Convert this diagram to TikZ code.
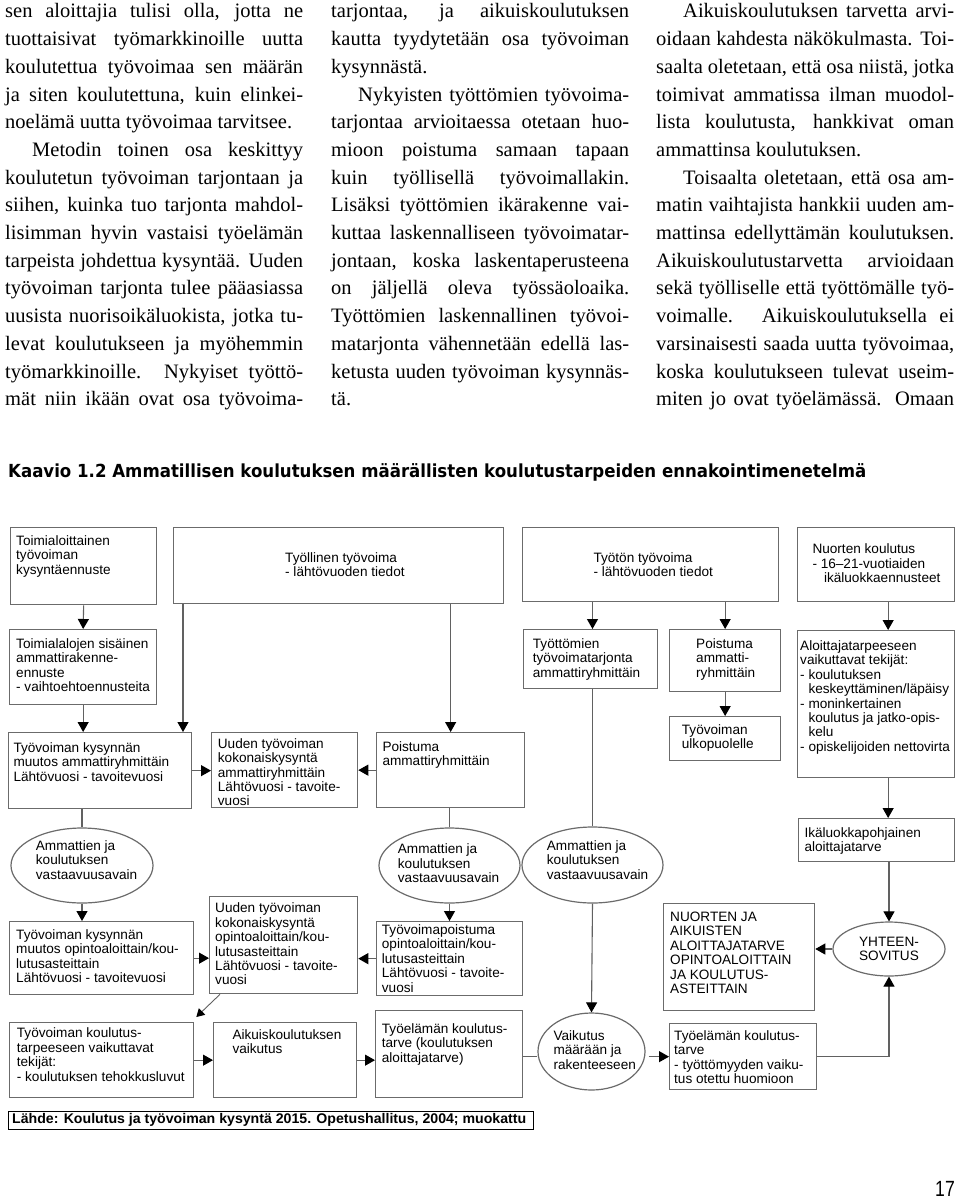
\documentclass[tikz,border=0pt]{standalone}
\usepackage{fontspec}
\usepackage{graphicx}
\setmainfont{Liberation Serif}
\newfontfamily\arialf{Liberation Sans}
\newfontfamily\titlef{DejaVu Sans}
\usetikzlibrary{arrows.meta,shapes.geometric,calc}
\definecolor{boxgray}{gray}{0.42}
\definecolor{linegray}{gray}{0.38}
\newcommand\jl[1]{\makebox[298pt][s]{#1}}
\newcommand\jli[1]{\hspace*{27pt}\makebox[271pt][s]{#1}}
\begin{document}
\begin{tikzpicture}[x=1pt,y=-1pt,
  box/.style={draw=boxgray,line width=1.3pt,rectangle,inner sep=0,anchor=north west},
  ell/.style={draw=boxgray,line width=1.2pt,ellipse,inner sep=0},
  txt/.style={font=\arialf\fontsize{13.6}{14.4}\selectfont,align=left,inner sep=0,anchor=north west},
  col/.style={font=\fontsize{20.5}{27.7}\selectfont,align=left,inner sep=0,anchor=north west},
  ln/.style={draw=linegray,line width=1.1pt},
  arr/.style={ln,-{Triangle[width=11pt,length=10pt,color=black]}},
  arrthin/.style={draw=linegray,line width=0.9pt,-{Triangle[width=9pt,length=8pt,color=black]}}]
\fill[white] (0,0) rectangle (960,1200);
\useasboundingbox (0,0) rectangle (960,1200);

% ---- running text ----
\node[col] (col1) at (5,3.5) {%
\jl{sen aloittajia tulisi olla, jotta ne}\\
\jl{tuottaisivat työmarkkinoille uutta}\\
\jl{koulutettua työvoimaa sen määrän}\\
\jl{ja siten koulutettuna, kuin elinkei-}\\
noelämä uutta työvoimaa tarvitsee.\\
\jli{Metodin toinen osa keskittyy}\\
\jl{koulutetun työvoiman tarjontaan ja}\\
\jl{siihen, kuinka tuo tarjonta mahdol-}\\
\jl{lisimman hyvin vastaisi työelämän}\\
\jl{tarpeista johdettua kysyntää. Uuden}\\
\jl{työvoiman tarjonta tulee pääasiassa}\\
\jl{uusista nuorisoikäluokista, jotka tu-}\\
\jl{levat koulutukseen ja myöhemmin}\\
\jl{työmarkkinoille. Nykyiset työttö-}\\
\jl{mät niin ikään ovat osa työvoima-}};
\node[col] (col2) at (331,3.5) {%
\jl{tarjontaa, ja aikuiskoulutuksen}\\
\jl{kautta tyydytetään osa työvoiman}\\
kysynnästä.\\
\jli{Nykyisten työttömien työvoima-}\\
\jl{tarjontaa arvioitaessa otetaan huo-}\\
\jl{mioon poistuma samaan tapaan}\\
\jl{kuin työllisellä työvoimallakin.}\\
\jl{Lisäksi työttömien ikärakenne vai-}\\
\jl{kuttaa laskennalliseen työvoimatar-}\\
\jl{jontaan, koska laskentaperusteena}\\
\jl{on jäljellä oleva työssäoloaika.}\\
\jl{Työttömien laskennallinen työvoi-}\\
\jl{matarjonta vähennetään edellä las-}\\
\jl{ketusta uuden työvoiman kysynnäs-}\\
tä.};
\node[col] (col3) at (656,3.5) {%
\jli{Aikuiskoulutuksen tarvetta arvi-}\\
\jl{oidaan kahdesta näkökulmasta. Toi-}\\
\jl{saalta oletetaan, että osa niistä, jotka}\\
\jl{toimivat ammatissa ilman muodol-}\\
\jl{lista koulutusta, hankkivat oman}\\
ammattinsa koulutuksen.\\
\jli{Toisaalta oletetaan, että osa am-}\\
\jl{matin vaihtajista hankkii uuden am-}\\
\jl{mattinsa edellyttämän koulutuksen.}\\
\jl{Aikuiskoulutustarvetta arvioidaan}\\
\jl{sekä työlliselle että työttömälle työ-}\\
\jl{voimalle. Aikuiskoulutuksella ei}\\
\jl{varsinaisesti saada uutta työvoimaa,}\\
\jl{koska koulutukseen tulevat useim-}\\
\jl{miten jo ovat työelämässä. Omaan}};

% ---- title ----
\node[anchor=base west,inner sep=0] (title) at (8,477) {\resizebox{858pt}{\height}{\titlef\bfseries\fontsize{18}{18}\selectfont Kaavio 1.2 Ammatillisen koulutuksen määrällisten koulutustarpeiden ennakointimenetelmä}};

% ---- boxes ----
\node[box,minimum width=146pt,minimum height=77pt] (b1) at (10,527) {};
\node[box,minimum width=330pt,minimum height=76pt] (b2) at (173,527) {};
\node[box,minimum width=256pt,minimum height=74pt] (b3) at (522,527) {};
\node[box,minimum width=157pt,minimum height=74pt] (b4) at (797,527) {};
\node[box,minimum width=147pt,minimum height=75pt] (b5) at (9,629) {};
\node[box,minimum width=134pt,minimum height=59pt] (b6) at (523,629) {};
\node[box,minimum width=111pt,minimum height=62pt] (b7) at (669,629) {};
\node[box,minimum width=111pt,minimum height=44pt] (b8) at (669,716) {};
\node[box,minimum width=157pt,minimum height=147pt] (b9) at (797,630) {};
\node[box,minimum width=183pt,minimum height=76pt] (b10) at (8,732) {};
\node[box,minimum width=146pt,minimum height=75pt] (b11) at (211,732) {};
\node[box,minimum width=148pt,minimum height=75pt] (b12) at (376,732) {};
\node[box,minimum width=156pt,minimum height=43pt] (b13) at (798,818) {};
\node[box,minimum width=184pt,minimum height=73pt] (b14) at (9,921) {};
\node[box,minimum width=148pt,minimum height=97pt] (b15) at (209,896) {};
\node[box,minimum width=146pt,minimum height=74pt] (b16) at (376,921) {};
\node[box,minimum width=151pt,minimum height=107pt] (b17) at (663,903) {};
\node[box,minimum width=184pt,minimum height=75pt] (b18) at (9,1022) {};
\node[box,minimum width=143pt,minimum height=75pt] (b19) at (213,1022) {};
\node[box,minimum width=147pt,minimum height=87pt] (b20) at (375,1010) {};
\node[box,minimum width=147pt,minimum height=66pt] (b21) at (669,1023) {};

% ---- ellipses ----
\node[ell,minimum width=142pt,minimum height=75pt] (e1) at (82,865.5) {};
\node[ell,minimum width=141pt,minimum height=75pt] (e2) at (449.5,865.5) {};
\node[ell,minimum width=141pt,minimum height=76pt] (e3) at (592.5,865) {};
\node[ell,minimum width=112pt,minimum height=54pt,font=\arialf\fontsize{13.6}{14.4}\selectfont,align=center] (e4) at (889,949) {YHTEEN-\\SOVITUS};
\node[ell,minimum width=107pt,minimum height=77pt] (e5) at (591.5,1051.5) {};

% ---- texts ----
\node[txt] (t1) at (16,535.5) {Toimialoittainen\\työvoiman\\kysyntäennuste};
\node[txt] (t2) at (285,552.2) {Työllinen työvoima\\- lähtövuoden tiedot};
\node[txt] (t3) at (593.3,552.2) {Työtön työvoima\\- lähtövuoden tiedot};
\node[txt] (t4) at (812.3,543.8) {Nuorten koulutus\\- 16–21-vuotiaiden\\\hspace*{11.5pt}ikäluokkaennusteet};
\node[txt] (t5) at (16,638.5) {Toimialalojen sisäinen\\ammattirakenne-\\ennuste\\- vaihtoehtoennusteita};
\node[txt] (t6) at (532.7,638.5) {Työttömien\\työvoimatarjonta\\ammattiryhmittäin};
\node[txt] (t7) at (696,638.5) {Poistuma\\ammatti-\\ryhmittäin};
\node[txt] (t8) at (681.7,724.5) {Työvoiman\\ulkopuolelle};
\node[txt] (t9) at (800,640.5) {Aloittajatarpeeseen\\vaikuttavat tekijät:\\- koulutuksen\\\hspace*{8.3pt}keskeyttäminen/läpäisy\\- moninkertainen\\\hspace*{8.3pt}koulutus ja jatko-opis-\\\hspace*{8.3pt}kelu\\- opiskelijoiden nettovirta};
\node[txt] (t10) at (13.3,742.2) {Työvoiman kysynnän\\muutos ammattiryhmittäin\\Lähtövuosi - tavoitevuosi};
\node[txt] (t11) at (217.7,738.2) {Uuden työvoiman\\kokonaiskysyntä\\ammattiryhmittäin\\Lähtövuosi - tavoite-\\vuosi};
\node[txt] (t12) at (382.3,741.5) {Poistuma\\ammattiryhmittäin};
\node[txt] (te1) at (35.7,840.5) {Ammattien ja\\koulutuksen\\vastaavuusavain};
\node[txt] (te2) at (397.7,843.8) {Ammattien ja\\koulutuksen\\vastaavuusavain};
\node[txt] (te3) at (546.7,840.5) {Ammattien ja\\koulutuksen\\vastaavuusavain};
\node[txt] (t13) at (804.3,827.2) {Ikäluokkapohjainen\\aloittajatarve};
\node[txt] (t14) at (16,929.5) {Työvoiman kysynnän\\muutos opintoaloittain/kou-\\lutusasteittain\\Lähtövuosi - tavoitevuosi};
\node[txt] (t15) at (215,902.8) {Uuden työvoiman\\kokonaiskysyntä\\opintoaloittain/kou-\\lutusasteittain\\Lähtövuosi - tavoite-\\vuosi};
\node[txt] (t16) at (381.7,924.5) {Työvoimapoistuma\\opintoaloittain/kou-\\lutusasteittain\\Lähtövuosi - tavoite-\\vuosi};
\node[txt] (t17) at (670,911.7) {NUORTEN JA\\AIKUISTEN\\ALOITTAJATARVE\\OPINTOALOITTAIN\\JA KOULUTUS-\\ASTEITTAIN};
\node[txt] (te5) at (553.3,1030.2) {Vaikutus\\määrään ja\\rakenteeseen};
\node[txt] (t18) at (16.7,1027.8) {Työvoiman koulutus-\\tarpeeseen vaikuttavat\\tekijät:\\- koulutuksen tehokkusluvut};
\node[txt] (t19) at (232.3,1029.5) {Aikuiskoulutuksen\\vaikutus};
\node[txt] (t20) at (381.7,1023.5) {Työelämän koulutus-\\tarve (koulutuksen\\aloittajatarve)};
\node[txt] (t21) at (674,1030.2) {Työelämän koulutus-\\tarve\\- työttömyyden vaiku-\\tus otettu huomioon};

% ---- connectors ----
\draw[arr] (b1.south) -- (b5.north);
\draw[arr] (b5.south) -- (b5.south |- b10.north);
\draw[arr] ([xshift=10pt]b2.south west) -- ([xshift=10pt]b2.south west |- b10.north);
\draw[arr] (b12.north |- b2.south) -- (b12.north);
\draw[arr] (b10.east) -- (b10.east -| b11.west);
\draw[arr] (b12.west) -- (b12.west -| b11.east);
\draw[ln] (e1.north |- b10.south) -- (e1.north);
\draw[ln] (e2.north |- b12.south) -- (e2.north);
\draw[ln] (e3.north |- b6.south) -- (e3.north);
\draw[arr] (e1.south) -- (e1.south |- b14.north);
\draw[arr] (e2.south) -- (e2.south |- b16.north);
\draw[arr] (b14.east) -- (b14.east -| b15.west);
\draw[arr] (b16.west) -- (b16.west -| b15.east);
\draw[arrthin] ([xshift=11pt]b15.south west) -- ([xshift=2pt,yshift=5pt]b18.north east);
\draw[arr] (b18.east) -- (b18.east -| b19.west);
\draw[arr] (b19.east) -- (b19.east -| b20.west);
\draw[ln] (b20.east |- b21.west) -- (e5.west |- b21.west);
\draw[arr,shorten <=3pt] (e5.east |- b21.west) -- (b21.west);
\draw[arr] (b21.east) -| (e4.south);
\draw[arr] (e4.north |- b13.south) -- (e4.north);
\draw[arr] (e4.west) -- (e4.west -| b17.east);
\draw[arr] (e3.south) -- (e5.north);
\draw[arr] (e3.north |- b3.south) -- (e3.north |- b6.north);
\draw[arr] (b7.north |- b3.south) -- (b7.north);
\draw[arr] (b7.south) -- (b8.north);
\draw[arr] ([xshift=12pt]b4.south) -- ([xshift=12pt]b4.south |- b9.north);
\draw[arr] ([xshift=12pt]b4.south |- b9.south) -- ([xshift=12pt]b4.south |- b13.north);

% ---- source and page number ----
\node[draw=black,line width=1.4pt,anchor=north west,minimum width=525pt,minimum height=18pt,inner sep=0] (src) at (8,1111) {};
\node[anchor=west,inner sep=0] (srct) at (12,1120) {\resizebox{514pt}{\height}{\arialf\bfseries\fontsize{14}{14}\selectfont Lähde: Koulutus ja työvoiman kysyntä 2015. Opetushallitus, 2004; muokattu}};
\node[anchor=base east,inner sep=0] (pg) at (955,1196) {\scalebox{0.8}[1]{\arialf\fontsize{22}{22}\selectfont 17}};
\end{tikzpicture}
\end{document}
